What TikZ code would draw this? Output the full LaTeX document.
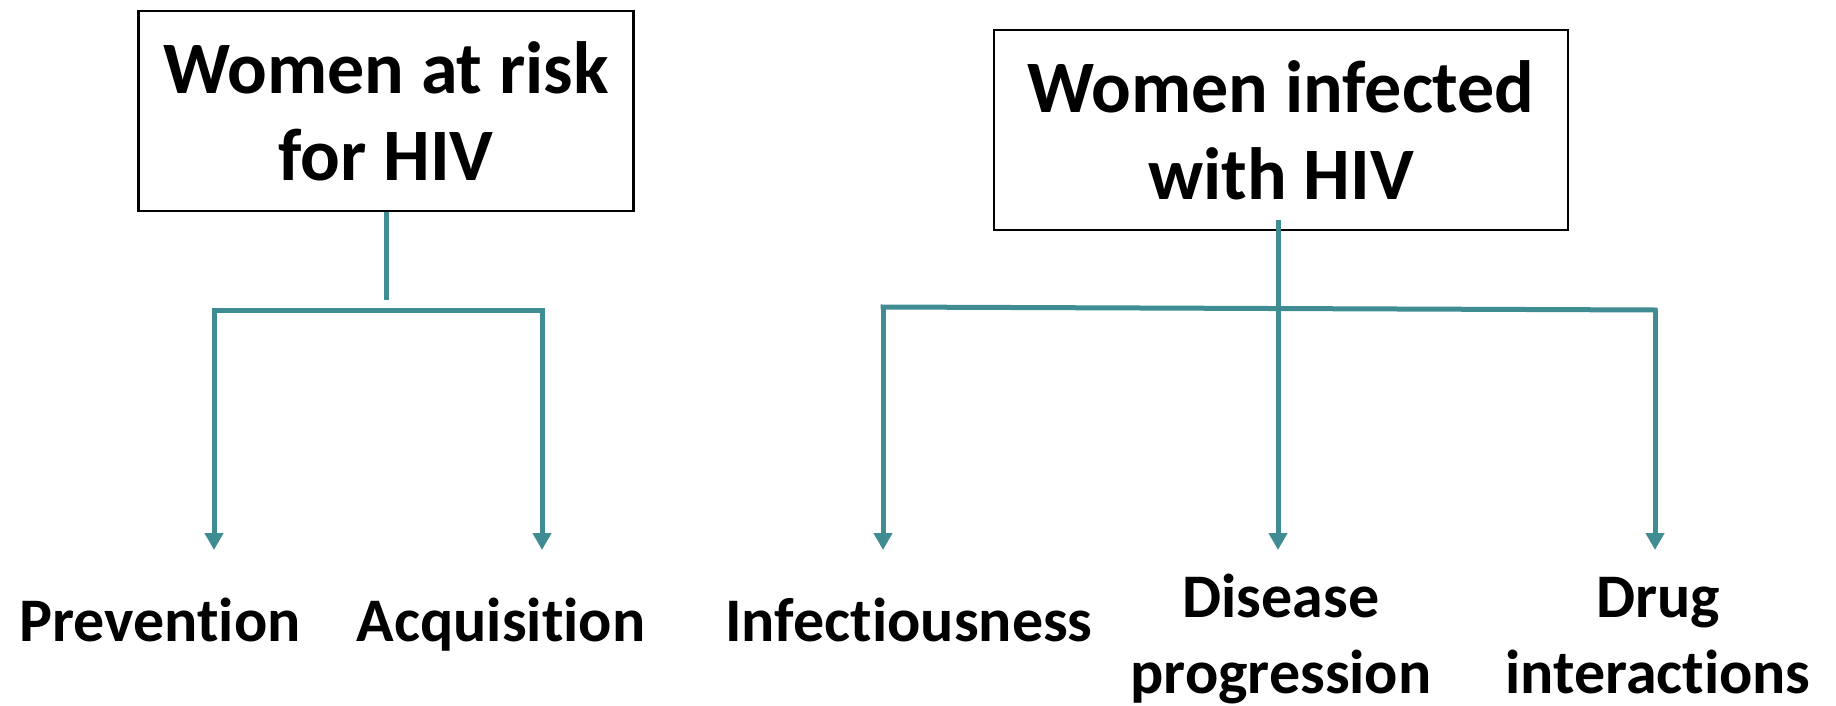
\documentclass[tikz,border=0pt]{standalone}
\usepackage{fontspec}
\setmainfont[Ligatures={NoCommon, NoDiscretionary}]{Carlito}
\usepackage{xcolor}
\usetikzlibrary{arrows.meta, positioning}
\definecolor{linkteal}{HTML}{3F8D93}
\tikzset{ % global config
    x=1pt, y=-1pt, % one unit is one pixel, y runs downwards
    group/.style={draw=black, line width=2.5pt, align=center, inner sep=0pt,
        font=\bfseries\fontsize{74}{87}\selectfont}, % the two top boxes
    leaf/.style={align=center, inner sep=0pt,
        font=\bfseries\fontsize{62}{76}\selectfont}, % the labels at the bottom
    link/.style={draw=linkteal, line width=5pt}, % plain teal line
    bar/.style={link, line cap=rect}, % horizontal bars
    flow/.style={link, -{Triangle[width=18pt, length=17pt]}}, % teal arrow
}
\begin{document}
\begin{tikzpicture}
    \useasboundingbox (0,0) rectangle (1836,706);

		\node[group, minimum width=495pt, minimum height=200pt] (risk) at (386,111) {Women at risk\\for HIV};
		\node[group, minimum width=574pt, minimum height=200pt] (infected) at (1281,130) {Women infected\\with HIV};

		\node[leaf, anchor=base] (prev) at (160,641) {Prevention};
		\node[leaf, anchor=base] (acq) at (501,641) {Acquisition};
		\node[leaf, anchor=base] (infect) at (909,641) {Infectiousness};
		\node[leaf, anchor=base] (disease) at (1281,693) {Disease\\progression};
		\node[leaf, anchor=base] (drug) at (1658,693) {Drug\\interactions};

		% ends of the lines
		\coordinate (riskstub) at (386,300);
		\coordinate (riskL) at (214,310);
		\coordinate (riskR) at (542,310);
		\coordinate (infL) at (883,307);
		\coordinate (infR) at (1655,310);
		\coordinate (prevtip) at (214,550);
		\coordinate (acqtip) at (542,550);
		\coordinate (infecttip) at (883,550);
		\coordinate (diseasetip) at (1278,550);
		\coordinate (drugtip) at (1655,550);

		\draw[link] (risk.south) -- (riskstub);
		\draw[bar] (riskL) -- (riskR);
		\draw[flow] (riskL) -- (prevtip);
		\draw[flow] (riskR) -- (acqtip);
		\draw[bar] (infL) -- (infR);
		\draw[flow] ([xshift=-3pt, yshift=11pt]infected.south) -- (diseasetip);
		\draw[flow] (infL) -- (infecttip);
		\draw[flow] (infR) -- (drugtip);

\end{tikzpicture}
\end{document}
